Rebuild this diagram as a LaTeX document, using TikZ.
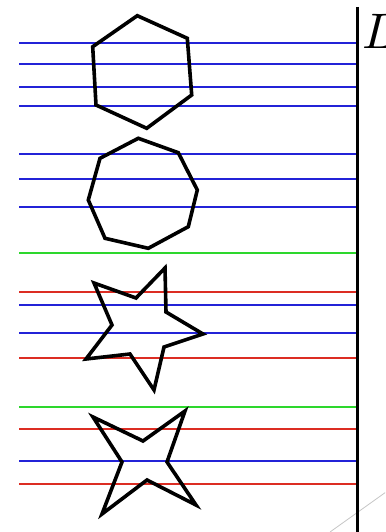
\documentclass[tikz,border=0pt]{standalone}
\usepackage{graphicx}
\definecolor{lblue}{RGB}{35,35,215}
\definecolor{lred}{RGB}{220,45,35}
\definecolor{lgreen}{RGB}{45,215,45}
\tikzset{
  hline/.style={line width=2.2pt},
  shapeline/.style={draw=black,line width=3.6pt,line join=miter},
}
\begin{document}
\begin{tikzpicture}[x=1pt,y=-1pt]
\useasboundingbox (0,0) rectangle (385,532);
\clip (0,0) rectangle (385,532);
% faint diagonal
\draw[gray!45,line width=0.8pt] (330,532) -- (386,492);
% horizontal lines
\foreach \yy/\cc in {42.7/lblue,64/lblue,86.7/lblue,106/lblue,
  154/lblue,179/lblue,206.7/lblue,252.7/lgreen,
  291.7/lred,305/lblue,333.3/lblue,357.7/lred,
  407.3/lgreen,429/lred,460.7/lblue,484.3/lred}
  \draw[hline,draw=\cc] (19,\yy) -- (357,\yy);
% vertical line
\coordinate (vtop) at (357.5,7);
\coordinate (vbot) at (357.5,532);
\draw[line width=2.8pt] (vtop) -- (vbot);
\node[anchor=south west,inner sep=0pt] (Llab) at (362,48.5) {\scalebox{5}{$L$}};
% hexagon
\draw[shapeline] (137.3,15.7) -- (187.3,38.3) -- (191.7,95) -- (146.7,128.3) -- (96,105) -- (92.7,46.7) -- cycle;
% octagon
\draw[shapeline] (138.3,138.3) -- (178.3,152.7) -- (197.3,190) -- (188.3,226.7) -- (148.3,248.3) -- (105,238.3) -- (88.3,200) -- (100,158.3) -- cycle;
% five-pointed star
\draw[shapeline] (165,268) -- (166,312) -- (203,334) -- (164,347) -- (154,390) -- (130,354) -- (86,359) -- (112,325) -- (94,283) -- (136,298) -- cycle;
% four-pointed star
\draw[shapeline] (185,411) -- (167,462) -- (196,505) -- (147,480) -- (102,514) -- (122,462) -- (93,417) -- (143,441) -- cycle;
\end{tikzpicture}
\end{document}
